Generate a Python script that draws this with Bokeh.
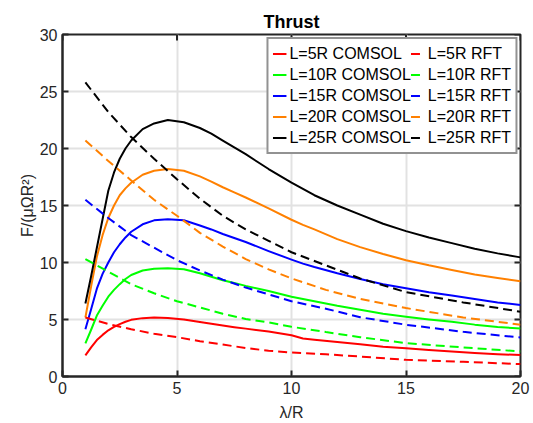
import math
from bokeh.plotting import figure
from bokeh.models import Legend, LegendItem, FixedTicker
from bokeh.embed import file_html
from bokeh.resources import INLINE

# ---- data ----
x_comsol = [1, 1.25, 1.5, 1.75, 2, 2.25, 2.5, 2.75, 3, 3.5, 4, 4.6, 5.3, 6, 6.5, 7, 7.5, 8, 9,
            10, 10.5, 11, 12, 13, 14, 15, 16, 17, 18, 19, 20]
comsol_5 = [1.85, 2.55, 3.2, 3.65, 4.05, 4.35, 4.6, 4.8, 4.97, 5.12, 5.18, 5.13, 5.0, 4.78, 4.62, 4.48, 4.33, 4.2, 3.95,
            3.62, 3.34, 3.22, 3.02, 2.82, 2.62, 2.47, 2.33, 2.2, 2.07, 1.96, 1.88]
comsol_10 = [2.9, 4.1, 5.35, 6.2, 7.0, 7.6, 8.1, 8.55, 8.9, 9.3, 9.45, 9.5, 9.4, 9.05, 8.75, 8.45, 8.2, 7.95, 7.5,
             7.0, 6.8, 6.6, 6.2, 5.85, 5.5, 5.24, 5.0, 4.8, 4.55, 4.35, 4.2]
comsol_15 = [4.15, 5.9, 7.7, 9.0, 10.0, 10.9, 11.6, 12.2, 12.7, 13.35, 13.7, 13.8, 13.7, 13.25, 12.9, 12.5, 12.15, 11.8, 11.0,
             10.25, 9.9, 9.6, 9.05, 8.55, 8.1, 7.75, 7.4, 7.1, 6.8, 6.5, 6.27]
comsol_20 = [5.18, 7.9, 10.5, 12.4, 13.9, 15.0, 15.9, 16.5, 17.0, 17.7, 18.05, 18.2, 18.05, 17.55, 17.1, 16.6, 16.15, 15.7, 14.75,
             13.75, 13.3, 12.9, 12.05, 11.35, 10.75, 10.2, 9.75, 9.35, 8.95, 8.65, 8.35]
comsol_25 = [6.4, 8.8, 11.3, 13.8, 16.3, 17.9, 19.1, 20.0, 20.7, 21.7, 22.2, 22.5, 22.3, 21.8, 21.3, 20.7, 20.1, 19.5, 18.2,
             17.0, 16.45, 15.9, 15.0, 14.2, 13.4, 12.75, 12.2, 11.7, 11.2, 10.8, 10.45]

x_rft = [1, 2, 3, 4, 5, 6, 7, 8, 9, 10, 11.5, 13, 15, 17.5, 20]
rft_5 = [5.18, 4.6, 4.15, 3.75, 3.45, 3.1, 2.8, 2.5, 2.26, 2.1, 1.95, 1.75, 1.46, 1.29, 1.09]
rft_10 = [10.3, 9.2, 8.1, 7.3, 6.6, 6.06, 5.5, 5.05, 4.74, 4.36, 3.9, 3.45, 2.92, 2.55, 2.2]
rft_15 = [15.5, 13.9, 12.4, 11.3, 10.2, 9.3, 8.5, 7.8, 7.2, 6.6, 5.95, 5.2, 4.54, 3.92, 3.42]
rft_20 = [20.7, 18.9, 17.2, 15.5, 14.1, 12.6, 11.4, 10.3, 9.4, 8.6, 7.6, 6.8, 6.0, 5.18, 4.54]
rft_25 = [25.8, 23.2, 21.0, 19.1, 17.3, 15.6, 14.1, 12.9, 11.9, 10.9, 9.75, 8.6, 7.4, 6.5, 5.68]

labels_L = ["L=5R", "L=10R", "L=15R", "L=20R", "L=25R"]
colors = ["#ff0000", "#00ff00", "#0000ff", "#ff8000", "#000000"]
x_ticks = [0, 5, 10, 15, 20]
y_ticks = [0, 5, 10, 15, 20, 25, 30]

FONT = "Liberation Sans"
AX = "#262626"

p = figure(width=533, height=423, x_range=(x_ticks[0], x_ticks[-1]), y_range=(y_ticks[0], y_ticks[-1]),
           output_backend="svg", toolbar_location=None, title="Thrust",
           min_border_left=62, min_border_right=13, min_border_top=34, min_border_bottom=47)
p.title.align = "center"
p.title.text_font = FONT
p.title.text_font_size = "18px"
p.title.text_font_style = "bold"
p.title.text_color = "#000000"
p.title.standoff = 6

p.outline_line_color = AX
p.outline_line_width = 2
p.outline_line_alpha = 1

for ax in [p.xaxis[0], p.yaxis[0]]:
    ax.axis_line_color = AX
    ax.axis_line_width = 2
    ax.major_tick_in = 6
    ax.major_tick_out = 0
    ax.major_tick_line_color = AX
    ax.major_tick_line_width = 2
    ax.minor_tick_line_color = None
    ax.major_label_text_font = FONT
    ax.major_label_text_font_size = "16px"
    ax.major_label_text_color = AX
    ax.axis_label_text_font = FONT
    ax.axis_label_text_font_size = "16px"
    ax.axis_label_text_font_style = "normal"
    ax.axis_label_text_color = AX
    ax.major_label_standoff = 5

p.xaxis.ticker = FixedTicker(ticks=x_ticks)
p.yaxis.ticker = FixedTicker(ticks=y_ticks)
p.xaxis.axis_label = "λ/R"
p.yaxis.axis_label = "F/(μΩR²)"
p.xaxis.axis_label_standoff = 7
p.yaxis.axis_label_standoff = 1

p.grid.grid_line_color = "#e2e2e2"
p.grid.grid_line_width = 2
p.xgrid.ticker = FixedTicker(ticks=x_ticks)
p.ygrid.ticker = FixedTicker(ticks=y_ticks)

# inward ticks on the top and right sides of the box
p.ray(x=x_ticks, y=[y_ticks[-1]] * len(x_ticks), length=6, length_units="screen",
      angle=-math.pi / 2, line_color=AX, line_width=2)
p.ray(x=[x_ticks[-1]] * len(y_ticks), y=y_ticks, length=6, length_units="screen",
      angle=math.pi, line_color=AX, line_width=2)

comsol = [comsol_5, comsol_10, comsol_15, comsol_20, comsol_25]
rft = [rft_5, rft_10, rft_15, rft_20, rft_25]

r_c, r_r = [], []
for ys, c in zip(comsol, colors):
    r_c.append(p.line(x_comsol, ys, line_color=c, line_width=2, line_join="round"))
for ys, c in zip(rft, colors):
    r_r.append(p.line(x_rft, ys, line_color=c, line_width=2, line_dash="9 5"))

items = [LegendItem(label=f"{l} COMSOL", renderers=[r]) for l, r in zip(labels_L, r_c)]
items += [LegendItem(label=f"{l} RFT", renderers=[r]) for l, r in zip(labels_L, r_r)]

legend = Legend(items=items, location="top_right", nrows=5,
                label_text_font=FONT, label_text_font_size="16px", label_text_color="#000000",
                glyph_width=14, glyph_height=21, label_height=21, label_standoff=3,
                spacing=0, padding=4, margin=3,
                border_line_color=AX, border_line_width=2,
                background_fill_color="white", background_fill_alpha=1)
p.add_layout(legend, "center")

open("out.html", "w").write(file_html(p, INLINE))
